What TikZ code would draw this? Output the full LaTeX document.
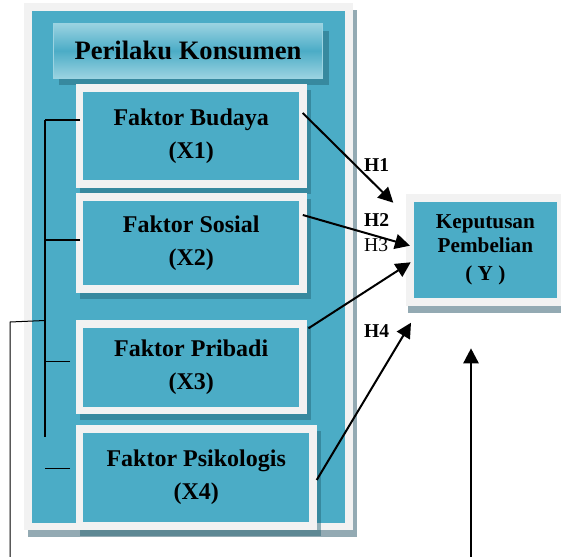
\documentclass[tikz,border=0pt]{standalone}
\usepackage{fontspec}
\setmainfont{Liberation Serif}
\usetikzlibrary{arrows.meta}

\definecolor{boxteal}{HTML}{4BACC6}
\definecolor{framegray}{HTML}{F2F2F2}
\definecolor{panelshade}{HTML}{93AAB3}
\definecolor{boxshade}{HTML}{1F5F70}
\definecolor{hdlite}{HTML}{9BD3E1}

\begin{document}
\begin{tikzpicture}[x=1pt,y=-1pt,
	faktor/.style={rectangle, fill=boxteal, draw=framegray, line width=7.6pt, inner sep=0pt, align=center,
		minimum width=223.4, font=\fontsize{24}{33.3}\selectfont\bfseries,
		preaction={draw=boxshade, fill=none, draw opacity=0.45, line width=7.6pt, transform canvas={shift={(4.5,6)}}}},
	judul/.style={rectangle, top color=hdlite, bottom color=hdlite, middle color=boxteal, draw=hdlite, line width=0.8pt,
		inner sep=0pt, minimum width=269.2, minimum height=54.5, font=\fontsize{26.6}{30}\selectfont\bfseries,
		preaction={fill=boxshade, draw=none, fill opacity=0.45, transform canvas={shift={(6,7.5)}}}},
	hasil/.style={rectangle, fill=boxteal, draw=framegray, line width=7.6pt, inner sep=0pt, align=center,
		minimum width=151.2, minimum height=104.4, font=\fontsize{21.2}{24.3}\selectfont\bfseries,
		preaction={draw=panelshade, fill=none, line width=7.6pt, transform canvas={shift={(2,7)}}}},
	hlab/.style={anchor=west, inner sep=0pt, font=\fontsize{19.6}{22}\selectfont\bfseries},
	hyp/.style={-{Triangle[length=15pt,width=15pt]}, line width=2pt},
	brk/.style={line width=1.3pt}]
	\clip (0,0) rectangle (561,556);
	
	%panel
	\fill[panelshade] (27.5,9.7) rectangle (356.5,536.7);	%shadow
	\fill[framegray] (24,3) rectangle (353,530);
	\fill[boxteal] (32,11) rectangle (345,523);
	
	%header
	\node[judul] (pk) at (188,50.7) {Perilaku Konsumen};
	
	%faktor boxes
	\node[faktor, minimum height=95.8] (x1) at (191.2,136) {Faktor Budaya\\(X1)};
	\node[faktor, minimum height=91.8] (x2) at (191.2,243) {Faktor Sosial\\(X2)};
	\node[faktor, minimum height=86.7] (x3) at (191.2,367.2) {Faktor Pribadi\\(X3)};
	\node[faktor, minimum height=97.4, minimum width=233.4] (x4) at (196.2,477.5) {Faktor Psikologis\\(X4)};
	
	%keputusan
	\node[hasil] (kp) at (485.4,250) {Keputusan\\Pembelian\\[4pt]( Y )};
	
	%bracket
	\coordinate (brtop) at (45,120);
	\coordinate (brbot) at (45,436.7);
	\coordinate (t1) at ([shift={(4.3,-16)}]x1.west);
	\coordinate (t2) at ([shift={(4.3,-3)}]x2.west);
	\coordinate (t3) at ([shift={(-5.7,-5.5)}]x3.west);
	\coordinate (t4) at ([shift={(-5.7,-9.2)}]x4.west);
	\draw[brk] (brtop) -- (brbot);
	\draw[brk] (t1) -- (t1 -| brtop);
	\draw[brk] (t2) -- (t2 -| brtop);
	\draw[brk] (t3) -- (t3 -| brtop);
	\draw[brk] (t4) -- (t4 -| brtop);		%loose tick
	
	%outer line
	\coordinate (lin) at (45,320.5);
	\coordinate (lout) at (10,322);
	\coordinate (lend) at (10,570);
	\draw[line width=1pt] (lin) -- (lout) -- (lend);
	
	%hypotheses
	\draw[hyp] ([shift={(-4,-23)}]x1.east) -- ([shift={(-12.7,8.7)}]kp.north west);
	\draw[hyp] ([shift={(-3.9,-28)}]x2.east) -- ([shift={(4,-4.3)}]kp.west);
	\draw[hyp] ([shift={(1.7,8.3)}]x3.north east) -- ([shift={(4.7,12.3)}]kp.west);
	\draw[hyp] ([shift={(0,2.5)}]x4.east) -- ([shift={(5,16.7)}]kp.south west);
		\node[hlab] (h1) at (364,165.5) {H1};
		\node[hlab] (h2) at (364,220) {H2};
		\node[hlab, font=\fontsize{19.6}{22}\selectfont] (h3) at (364,244.7) {H3};
		\node[hlab] (h4) at (364,331) {H4};
	
	%bottom arrow
	\coordinate (yin) at (471,570);
	\coordinate (ytip) at (471,348.3);
	\draw[hyp, line width=2.5pt] (yin) -- (ytip);
\end{tikzpicture}
\end{document}
